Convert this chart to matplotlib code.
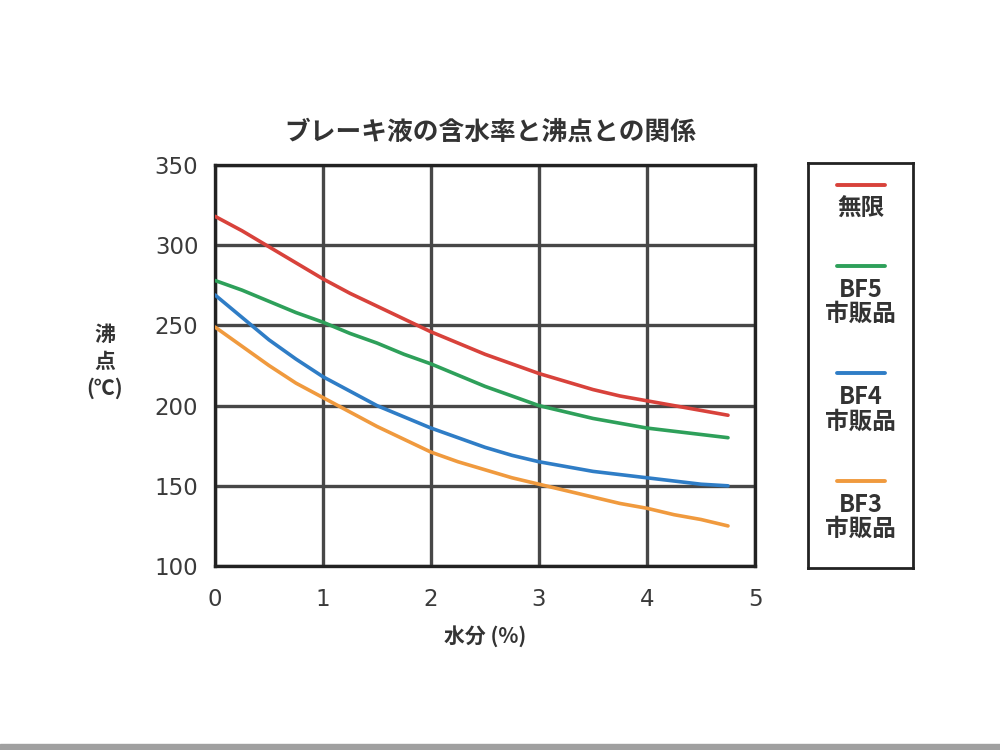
import numpy as np
import matplotlib.pyplot as plt
from matplotlib.patches import Rectangle

plt.rcParams["font.family"] = ["Noto Sans CJK JP", "DejaVu Sans"]

# data
water = [0, 0.25, 0.5, 0.75, 1, 1.25, 1.5, 1.75, 2, 2.25,
         2.5, 2.75, 3, 3.25, 3.5, 3.75, 4, 4.25, 4.5, 4.75]
mugen = [318, 309, 299, 289, 279, 270, 262, 254, 246, 239,
         232, 226, 220, 215, 210, 206, 203, 200, 197, 194]
bf5 = [278, 272, 265, 258, 252, 245, 239, 232, 226, 219,
       212, 206, 200, 196, 192, 189, 186, 184, 182, 180]
bf4 = [269, 255, 241, 229, 218, 209, 200, 193, 186, 180,
       174, 169, 165, 162, 159, 157, 155, 153, 151, 150]
bf3 = [249, 237, 225, 214, 205, 196, 187, 179, 171, 165,
       160, 155, 151, 147, 143, 139, 136, 132, 129, 125]

series_names = ["無限", "BF5\n市販品", "BF4\n市販品", "BF3\n市販品"]
series_colors = ["#d8423b", "#2ea05a", "#2f7dc6", "#f09a3e"]
x_ticks = [0, 1, 2, 3, 4, 5]
y_ticks = [100, 150, 200, 250, 300, 350]

fig = plt.figure(figsize=(10, 7.5), dpi=100)
ax = fig.add_axes([0.215, 0.2453, 0.54, 0.5347])

for vals, c in zip([mugen, bf5, bf4, bf3], series_colors):
    ax.plot(water, vals, color=c, lw=2.6, solid_capstyle="round", zorder=3)

ax.set_xlim(0, 5)
ax.set_ylim(100, 350)
ax.set_xticks(x_ticks)
ax.set_yticks(y_ticks)
ax.grid(True, color="#474747", lw=2.4, zorder=1)
ax.tick_params(length=0, colors="#3a3a3a")
ax.tick_params(axis="x", pad=16)
ax.tick_params(axis="y", pad=12)
for lab in ax.get_xticklabels() + ax.get_yticklabels():
    lab.set_family(["DejaVu Sans"])
    lab.set_fontsize(16.5)
for s in ax.spines.values():
    s.set_linewidth(2.4)
    s.set_color("#222222")

ax.set_title("ブレーキ液の含水率と沸点との関係", fontsize=18.5, color="#333333",
             pad=18, x=0.51, fontweight="bold")
ax.set_xlabel("水分 (%)", fontsize=15, color="#333333", labelpad=10,
              fontweight="bold")
fig.text(0.105, 0.518, "沸\n点\n(℃)", fontsize=15, color="#333333",
         ha="center", va="center", linespacing=1.35, fontweight="bold")

# legend box drawn as its own axes
lax = fig.add_axes([0.808, 0.243, 0.105, 0.54])
lax.set_xlim(0, 1)
lax.set_ylim(0, 1)
lax.set_xticks([])
lax.set_yticks([])
for s in lax.spines.values():
    s.set_linewidth(2.0)
    s.set_color("#222222")

line_y = [0.945, 0.745, 0.48, 0.215]
for name, c, ly in zip(series_names, series_colors, line_y):
    lax.plot([0.28, 0.73], [ly, ly], color=c, lw=2.8, solid_capstyle="round")
    lax.text(0.5, ly - 0.03, name, ha="center", va="top", fontsize=17,
             color="#333333", linespacing=1.0, fontweight="bold")

fig.patches.append(Rectangle((0, 0), 1, 0.008, transform=fig.transFigure,
                             color="#a0a0a0", zorder=0))

fig.savefig("out.png", dpi=100)
